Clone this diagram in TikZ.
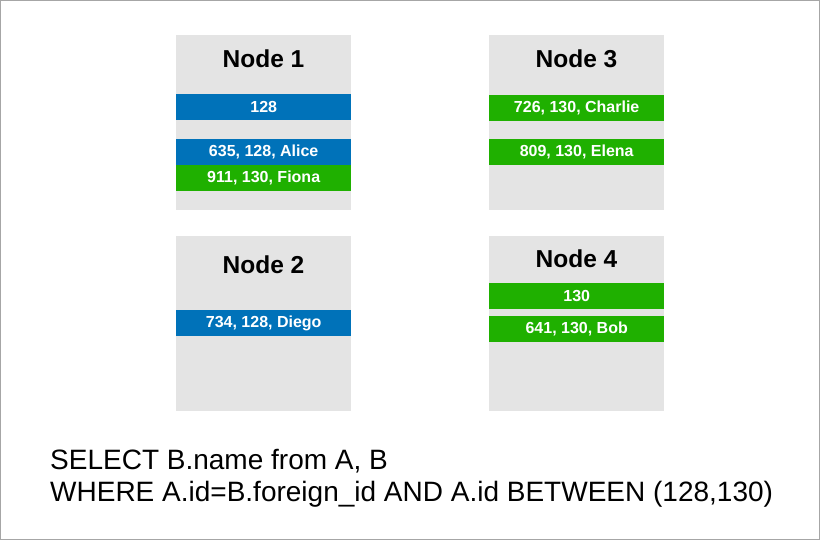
\documentclass[tikz,border=0pt]{standalone}
\usepackage{fontspec}
\setmainfont{Liberation Sans}
\definecolor{boxgray}{HTML}{E4E4E4}
\definecolor{barblue}{HTML}{0072B9}
\definecolor{bargreen}{HTML}{1FB000}
\definecolor{framegray}{HTML}{A6A6A6}
\begin{document}
\begin{tikzpicture}[x=1pt,y=-1pt,
  server/.style={fill=boxgray,draw=none,minimum width=175pt,minimum height=175pt,anchor=north west,inner sep=0pt},
  title/.style={font=\fontsize{24.5}{26}\selectfont\bfseries,text=black},
  bar/.style={draw=none,minimum width=175pt,minimum height=26pt,anchor=north west,inner sep=0pt,text=white,font=\fontsize{16}{18}\selectfont\bfseries},
  bluebar/.style={bar,fill=barblue},
  greenbar/.style={bar,fill=bargreen},
  sql/.style={font=\fontsize{28}{32}\selectfont,anchor=west,inner sep=0pt}]
\draw[framegray,line width=1pt,fill=white] (0.5,0.5) rectangle (819.5,539.5);
\useasboundingbox (0,0) rectangle (820,540);
% servers
\node[server] (s1) at (176,35) {};
\node[server] (s3) at (489,35) {};
\node[server] (s2) at (176,236) {};
\node[server] (s4) at (489,236) {};
\node[title] (t1) at (263.5,59) {Node 1};
\node[title] (t3) at (576.5,59) {Node 3};
\node[title] (t2) at (263.5,265) {Node 2};
\node[title] (t4) at (576.5,259) {Node 4};
% bars
\node[bluebar] (b1) at (176,94) {128};
\node[bluebar] (b2) at (176,139) {635, 128, Alice};
\node[greenbar] (b3) at (176,165) {911, 130, Fiona};
\node[greenbar] (b4) at (489,95) {726, 130, Charlie};
\node[greenbar] (b5) at (489,139) {809, 130, Elena};
\node[bluebar] (b6) at (176,310) {734, 128, Diego};
\node[greenbar] (b7) at (489,283) {130};
\node[greenbar] (b8) at (489,316) {641, 130, Bob};
% query
\node[sql] (q1) at (50,461) {SELECT B.name from A, B};
\node[sql] (q2) at (50,494) {WHERE A.id=B.foreign\_id AND A.id BETWEEN (128,130)};
\end{tikzpicture}
\end{document}
